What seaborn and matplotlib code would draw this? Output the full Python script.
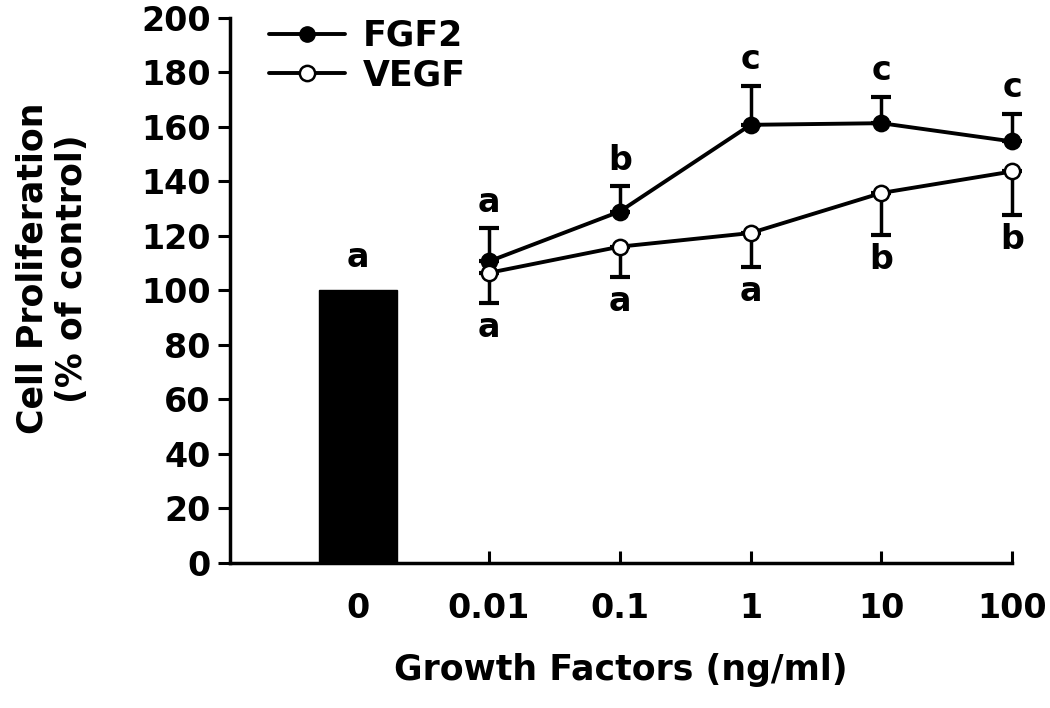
import numpy as np
import pandas as pd
import matplotlib
matplotlib.use("Agg")
import matplotlib.pyplot as plt
from matplotlib.lines import Line2D
import seaborn as sns

# data
doses = ["0", "0.01", "0.1", "1", "10", "100"]
control_value = 100
fgf2_mean = [110.6, 128.9, 160.7, 161.3, 154.6]
fgf2_err = [12.2, 9.2, 14.3, 9.6, 10.2]
vegf_mean = [106.4, 116.0, 121.0, 135.7, 143.6]
vegf_err = [10.9, 11.2, 12.5, 15.3, 15.9]
control_letter = "a"
fgf2_letters = ["a", "b", "c", "c", "c"]
vegf_letters = ["a", "a", "a", "b", "b"]

sns.set_theme(style="ticks")
plt.rcParams["font.family"] = ["DejaVu Sans"]
plt.rcParams["font.weight"] = "bold"
for key in ["text.color", "axes.labelcolor", "xtick.color", "ytick.color",
            "axes.edgecolor"]:
    plt.rcParams[key] = "black"

fig = plt.figure(figsize=(10.5, 7.08), dpi=100)
ax = fig.add_axes([0.219, 0.205, 0.745, 0.770])

pos = np.arange(1, len(doses))
df = pd.DataFrame({
    "pos": np.concatenate([pos, pos]),
    "value": fgf2_mean + vegf_mean,
    "group": ["FGF2"] * 5 + ["VEGF"] * 5,
})

# control bar
sns.barplot(x=[0], y=[control_value], native_scale=True, width=0.6,
            color="black", saturation=1, ax=ax, edgecolor="black")

# one-sided error bars
for m, e, up in [(fgf2_mean, fgf2_err, True), (vegf_mean, vegf_err, False)]:
    yerr = [np.zeros(5), e] if up else [e, np.zeros(5)]
    eb = ax.errorbar(pos, m, yerr=yerr, fmt="none", ecolor="black",
                     elinewidth=2.5, capsize=7, capthick=3, zorder=2)
    for art in eb.lines[1] + eb.lines[2]:
        art.set_clip_on(False)

sns.lineplot(data=df, x="pos", y="value", hue="group", style="group",
             palette={"FGF2": "black", "VEGF": "black"},
             markers={"FGF2": "o", "VEGF": "o"}, dashes=False,
             linewidth=2.8, markersize=11, ax=ax, zorder=3, legend=False)
lines = ax.get_lines()
lines[-1].set_markerfacecolor("white")
for ln in lines[-2:]:
    ln.set_markeredgecolor("black")
    ln.set_markeredgewidth(1.8)
    ln.set_clip_on(False)

# significance letters
fs = 24
ax.text(0, control_value + 6, control_letter, ha="center", va="bottom",
        fontsize=fs, fontweight="bold")
for x, m, e, t in zip(pos, fgf2_mean, fgf2_err, fgf2_letters):
    ax.text(x, m + e + 3.5, t, ha="center", va="bottom", fontsize=fs,
            fontweight="bold")
for x, m, e, t in zip(pos, vegf_mean, vegf_err, vegf_letters):
    ax.text(x, m - e - 3, t, ha="center", va="top", fontsize=fs,
            fontweight="bold")

# legend
handles = [
    Line2D([], [], color="black", lw=2.8, marker="o", ms=11,
           mfc="black", mec="black"),
    Line2D([], [], color="black", lw=2.8, marker="o", ms=11,
           mfc="white", mec="black", mew=1.8),
]
ax.legend(handles, ["FGF2", "VEGF"], loc="upper left",
          bbox_to_anchor=(0.01, 1.055), frameon=False, fontsize=25,
          handlelength=2.2, handletextpad=0.5, labelspacing=0.15)

ax.set_xlim(-0.98, 5.0)
ax.set_ylim(0, 200)
ax.set_yticks(range(0, 201, 20))
ax.set_xticks(range(len(doses)))
ax.set_xticklabels(doses)
ax.tick_params(axis="y", direction="out", length=9, width=2.2,
               labelsize=24, pad=5)
ax.tick_params(axis="x", direction="in", length=9, width=2.2,
               labelsize=24, pad=21)
for lab in ax.get_xticklabels() + ax.get_yticklabels():
    lab.set_fontweight("bold")

sns.despine(ax=ax)
for s in ["left", "bottom"]:
    ax.spines[s].set_linewidth(2.5)
    ax.spines[s].set_color("black")

ax.set_xlabel("Growth Factors (ng/ml)", fontsize=25, fontweight="bold",
              labelpad=20)
ax.set_ylabel("Cell Proliferation\n(% of control)", fontsize=25,
              fontweight="bold", linespacing=1.2)
ax.yaxis.set_label_coords(-0.18, 0.54)

fig.savefig("out.png", dpi=100, facecolor="white")
